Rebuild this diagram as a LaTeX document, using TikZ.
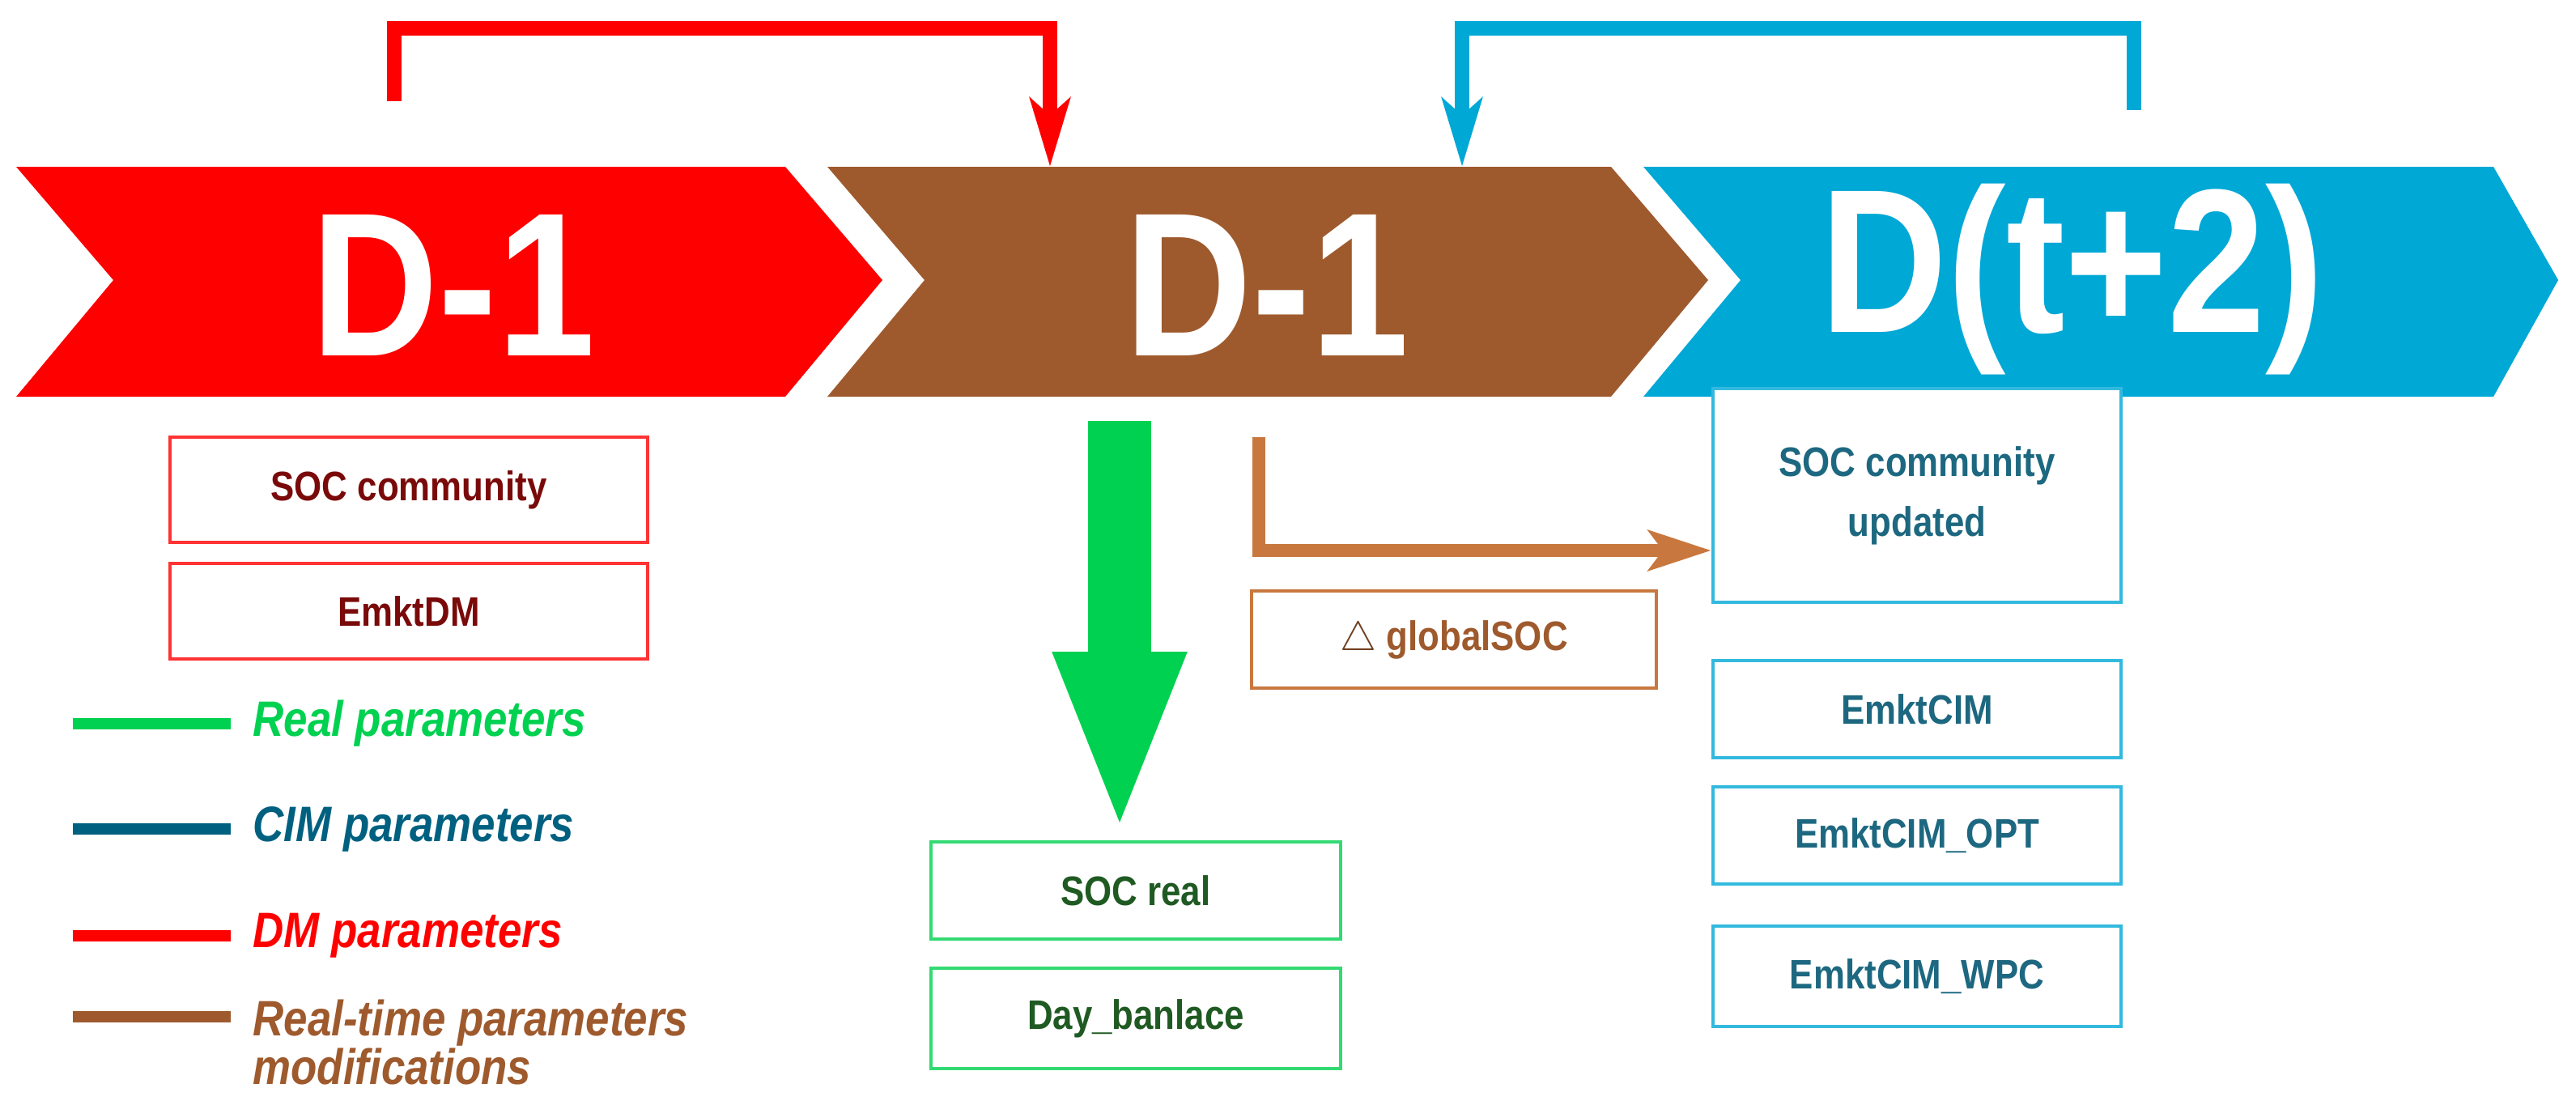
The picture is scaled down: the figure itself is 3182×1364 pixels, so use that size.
\documentclass[tikz,border=0pt]{standalone}
\usepackage{fontspec}
\setmainfont{Liberation Sans}[FakeStretch=0.86]
\usetikzlibrary{arrows.meta}
\definecolor{cred}{HTML}{FF0000}
\definecolor{cbrown}{HTML}{9E5A2D}
\definecolor{cblue}{HTML}{00A8D6}
\definecolor{cgreen}{HTML}{00D150}
\definecolor{tred}{HTML}{7A0A0A}
\definecolor{tblue}{HTML}{1D6880}
\definecolor{tgreen}{HTML}{1F5A22}
\definecolor{tbrown}{HTML}{9E5A2D}
\definecolor{lblue}{HTML}{006080}
\definecolor{bbrown}{HTML}{C8783E}
\begin{document}
\begin{tikzpicture}[x=0.1mm,y=-0.1mm,
  box/.style={draw, line width=1.2pt, fill=white, inner sep=0pt, align=center, font=\fontsize{14.5}{17}\selectfont\bfseries},
  big/.style={text=white, font=\fontsize{72}{76}\selectfont\bfseries},
  leg/.style={anchor=west, align=left, font=\fontsize{17.5}{14.5}\selectfont\bfseries\itshape},
  legline/.style={line width=4pt}]
\useasboundingbox (0,0) rectangle (3182,1364);
% chevrons
\fill[cred] (20,206) -- (970,206) -- (1090,346) -- (970,490) -- (20,490) -- (140,346) -- cycle;
\fill[cbrown] (1022,206) -- (1990,206) -- (2110,346) -- (1990,490) -- (1022,490) -- (1142,346) -- cycle;
\fill[cblue] (2030,206) -- (3080,206) -- (3160,346) -- (3080,490) -- (2030,490) -- (2150,346) -- cycle;
\node[big] (d1) at (560,352) {D-1};
\node[big] (d2) at (1565,352) {D-1};
\node[big] (d3) at (2560,345) {D(t+2)};
% top bracket arrows
\coordinate (rs) at (487,125);
\coordinate (re) at (1297,206);
\draw[cred, line width=5pt, -{Stealth[length=24pt, width=14pt, inset=6pt]}] (rs) |- (800,35) -| (re);
\coordinate (bs) at (2636,136);
\coordinate (be) at (1806,206);
\draw[cblue, line width=5pt, -{Stealth[length=24pt, width=14pt, inset=6pt]}] (bs) |- (2200,35) -| (be);
% boxes
\node[box, draw=red!80, text=tred, minimum width=590*0.1mm, minimum height=130*0.1mm] (soc) at (505,605) {SOC community};
\node[box, draw=red!80, text=tred, minimum width=590*0.1mm, minimum height=118*0.1mm] (emdm) at (505,755) {EmktDM};
\node[box, draw=bbrown, text=tbrown, minimum width=500*0.1mm, minimum height=120*0.1mm] (dg) at (1796,790) {\textcolor{tbrown!70!black}{$\bigtriangleup$} globalSOC};
\node[box, draw=cgreen!80, text=tgreen, minimum width=506*0.1mm, minimum height=120*0.1mm] (socr) at (1403,1100) {SOC real};
\node[box, draw=cgreen!80, text=tgreen, minimum width=506*0.1mm, minimum height=124*0.1mm] (day) at (1403,1258) {Day\_banlace};
\node[box, draw=cblue!80, text=tblue, minimum width=504*0.1mm, minimum height=264*0.1mm] (socu) at (2368,612) {SOC community\\[4pt]updated};
\node[box, draw=cblue!80, text=tblue, minimum width=504*0.1mm, minimum height=120*0.1mm] (cim) at (2368,876) {EmktCIM};
\node[box, draw=cblue!80, text=tblue, minimum width=504*0.1mm, minimum height=120*0.1mm] (opt) at (2368,1032) {EmktCIM\_OPT};
\node[box, draw=cblue!80, text=tblue, minimum width=504*0.1mm, minimum height=124*0.1mm] (wpc) at (2368,1206) {EmktCIM\_WPC};
% green arrow
\coordinate (gs) at (1383,520);
\coordinate (ge) at (1383,1030);
\draw[cgreen, line width=22pt, -{Triangle[length=64pt, width=42pt]}] (gs) -- (ge);
% brown arrow
\coordinate (bs2) at (1555,540);
\draw[bbrown, line width=4.5pt, -{Stealth[length=22pt, width=14pt, inset=5pt]}] (bs2) |- (socu.west |- 0,680);
% legend
\draw[legline, cgreen] (90,894) -- (285,894);
\node[leg, text=cgreen] (l1) at (300,894) {Real parameters};
\draw[legline, lblue] (90,1024) -- (285,1024);
\node[leg, text=lblue] (l2) at (300,1024) {CIM parameters};
\draw[legline, cred] (90,1156) -- (285,1156);
\node[leg, text=cred] (l3) at (300,1156) {DM parameters};
\draw[legline, cbrown] (90,1256) -- (285,1256);
\node[leg, text=cbrown, anchor=north west] (l4) at (300,1222) {Real-time parameters\\modifications};
\end{tikzpicture}
\end{document}
